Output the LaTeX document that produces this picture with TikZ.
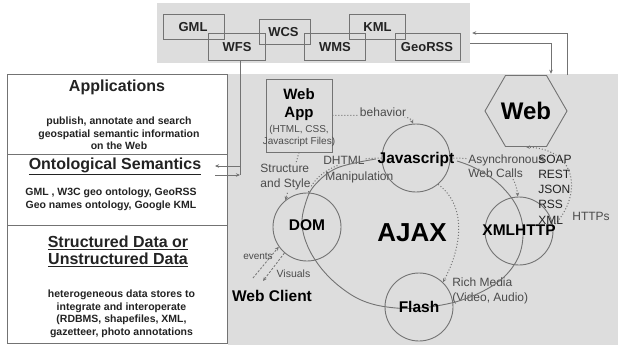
\documentclass[tikz,border=0pt]{standalone}
\usepackage{fontspec}
\setmainfont{Liberation Sans}
\usetikzlibrary{arrows.meta,shapes.geometric}
\definecolor{bg}{RGB}{221,221,221}
\definecolor{ln}{RGB}{115,115,115}
\definecolor{tx}{RGB}{35,35,35}
\definecolor{lt}{RGB}{75,75,75}
\begin{document}
\begin{tikzpicture}[x=1pt,y=-1pt,
  tbox/.style={draw=ln, line width=0.9pt, minimum height=25pt, inner sep=0, font=\fontsize{13}{15}\selectfont\bfseries, text=tx},
  panel/.style={draw=ln, line width=0.9pt, fill=white, minimum width=220pt, inner sep=0},
  circ/.style={circle, draw=ln, line width=0.9pt, minimum size=68pt, inner sep=0},
  ctext/.style={font=\fontsize{15.5}{17}\selectfont\bfseries, text=black, inner sep=0},
  lbl/.style={font=\fontsize{12}{15}\selectfont, text=lt, inner sep=0.6pt, align=left},
  conn/.style={draw=ln, line width=0.9pt},
  arr/.style={conn, -{Stealth[length=4pt,width=3.5pt]}},
  dotarrow/.style={draw=ln, dotted, line width=1pt, -{Stealth[length=4pt,width=3.5pt]}},
  dasharrow/.style={draw=ln, dash pattern=on 2.2pt off 1.6pt, line width=0.8pt, -{Stealth[length=4pt,width=3.5pt]}},
  ptitle/.style={font=\fontsize{16}{17}\selectfont\bfseries, text=tx, align=center, inner sep=0},
  pbody/.style={font=\fontsize{10.5}{12.6}\selectfont\bfseries, text=tx, align=center, inner sep=0}
]
\useasboundingbox (0,0) rectangle (618,345);
\fill[white] (0,0) rectangle (618,345);

% backgrounds
\node[fill=bg, minimum width=313pt, minimum height=60pt, inner sep=0] (top) at (313.5,33) {};
\node[fill=bg, minimum width=390pt, minimum height=271pt, inner sep=0] (main) at (423,209.5) {};

% top boxes
\node[tbox, minimum width=61pt] (GML) at (193.5,26.5) {};
\node[tbox, minimum width=57pt, minimum height=27pt] (WFS) at (236.5,46.5) {};
\node[tbox, minimum width=51pt] (WCS) at (284.5,31.5) {};
\node[tbox, minimum width=61pt, minimum height=27pt] (WMS) at (334.5,46.5) {};
\node[tbox, minimum width=56pt] (KML) at (377,26.5) {};
\node[tbox, minimum width=65pt, minimum height=27pt] (GeoRSS) at (427.5,46.5) {};
\node[tbox, draw=none] (tGML) at (193,27) {GML};
\node[tbox, draw=none] (tWFS) at (237,47.5) {WFS};
\node[tbox, draw=none] (tWCS) at (283.5,32) {WCS};
\node[tbox, draw=none] (tWMS) at (335,47.5) {WMS};
\node[tbox, draw=none] (tKML) at (377.5,27) {KML};
\node[tbox, draw=none] (tGeo) at (427,47.5) {GeoRSS};

% left panel
\node[panel, minimum height=80pt] (apps) at (117,114) {};
\node[panel, minimum height=71pt] (ont) at (117,189.5) {};
\node[panel, minimum height=118pt] (data) at (117,284) {};
\node[ptitle] (appt) at (117,87) {Applications};
\node[pbody] (appb) at (119,133.5) {publish, annotate and search\\geospatial semantic information\\on the Web};
\node[ptitle] (ontt) at (115,166) {\underline{Ontological Semantics}};
\node[pbody] (ontb) at (111,199.5) {GML , W3C geo ontology, GeoRSS\\Geo names ontology, Google KML};
\node[ptitle, font=\fontsize{16}{17}\selectfont\bfseries] (datat) at (118,251.5) {\underline{Structured Data or}\\[0pt]\underline{Unstructured Data}};
\node[pbody] (datab) at (121.5,314) {heterogeneous data stores to\\integrate and interoperate\\(RDBMS, shapefiles, XML,\\gazetteer, photo annotations};

% connectors between panels
\coordinate (j1) at (240,166);
\coordinate (j2) at (240,175);
\coordinate (o1) at (215,166);
\coordinate (o2) at (215,175);
\draw[conn] (WFS.south -| j1) -- (j2);
\draw[arr] (j1) -- (o1);
\draw[arr] (o2) -- (j2);

\coordinate (r1) at (567,75);
\coordinate (r2) at (567,33);
\coordinate (r3) at (551,43);
\draw[arr] (r1) -- (r2) -- ([xshift=2pt]top.east |- r2);
\draw[arr] (top.east |- r3) -- (r3) -- (r3 |- main.north);

% shapes
\node[regular polygon, regular polygon sides=6, draw=ln, line width=0.9pt, minimum size=72pt, inner sep=0,
      font=\fontsize{24}{26}\selectfont\bfseries, text=black] (web) at (526,111) {Web};
\node[draw=ln, line width=0.9pt, minimum width=66pt, minimum height=73pt, inner sep=0] (webapp) at (299,115.5) {};
\node[font=\fontsize{15}{17}\selectfont\bfseries, text=black, inner sep=0] (wa1) at (299,94) {Web};
\node[font=\fontsize{15}{17}\selectfont\bfseries, text=black, inner sep=0] (wa2) at (299,114) {App};
\node[font=\fontsize{10}{12}\selectfont, text=lt, inner sep=0] (wa3) at (299,130) {(HTML, CSS,};
\node[font=\fontsize{10}{12}\selectfont, text=lt, inner sep=0] (wa4) at (299,142) {Javascript Files)};

\node[circ] (js) at (416,158) {};
\node[circ] (dom) at (307,227) {};
\node[circ] (flash) at (419,307) {};
\node[circ] (xml) at (519,231) {};

% dotted connectors
\draw[dotarrow] (webapp.east) .. controls (392,115) and (409,114) .. (js.95);
\draw[dotarrow] (webapp.south) -- (dom.129);
\draw[dotarrow] (js.west) .. controls (345,158) and (318,170) .. (dom.88);
\draw[dotarrow] (js.east) .. controls (497,158) and (515,170) .. (xml.92);
\draw[dotarrow] (js.-50) .. controls (466,205) and (463,245) .. (flash.46);
\draw[dotarrow] (xml.8) .. controls (580,200) and (582,150) .. (web.south);
\coordinate (ev1) at (253,278);
\coordinate (vi2) at (263,281);
\draw[dasharrow] (ev1) -- (dom.215);
\draw[dasharrow] (dom.229) -- (vi2);

% labels
\node[lbl, fill=bg] (beh) at (383,112) {behavior};
\node[lbl, fill=bg] (sas) at (285.5,177.5) {Structure\\and Style};
\node[lbl, fill=bg, anchor=west] (dh1) at (322.5,160) {DHTML};
\node[lbl, anchor=west] (dh2) at (324.5,177) {Manipulation};
\node[lbl, fill=bg, anchor=west, font=\fontsize{12}{14}\selectfont] (async) at (467.5,166) {Asynchronous\\Web Calls};
\node[lbl, anchor=west, text=tx, font=\fontsize{12}{15.2}\selectfont] (proto) at (537.5,189.5) {SOAP\\REST\\JSON\\RSS\\XML};
\node[lbl] (https) at (591,216) {HTTPs};
\node[lbl, anchor=west] (rich) at (451.5,290.5) {Rich Media\\(Video, Audio)};
\node[lbl, font=\fontsize{10}{12}\selectfont] (ev) at (258,256) {events};
\node[lbl, font=\fontsize{10.5}{12}\selectfont] (vis) at (293.5,274) {Visuals};

% big loop
\draw[conn] plot[smooth, tension=0.6] coordinates {(457,161) (475,168) (498,183) (516,205) (523,230) (518,258) (498,282) (462,300) (420,308) (387,307) (361,300) (339,286) (321,268) (308,247) (302,225) (305,205) (314,186) (337,168) (376,159)};

% circle texts
\node[ctext] (tjs) at (416,159) {Javascript};
\node[ctext] (tdom) at (307,225) {DOM};
\node[ctext] (tflash) at (419,307) {Flash};
\node[ctext] (txml) at (519,230) {XMLHTTP};
\node[font=\fontsize{26}{28}\selectfont\bfseries, text=black, inner sep=0] (ajax) at (412,233) {AJAX};
\node[font=\fontsize{15.5}{17}\selectfont\bfseries, text=black, inner sep=0] (wc) at (272,296) {Web Client};
\end{tikzpicture}
\end{document}
